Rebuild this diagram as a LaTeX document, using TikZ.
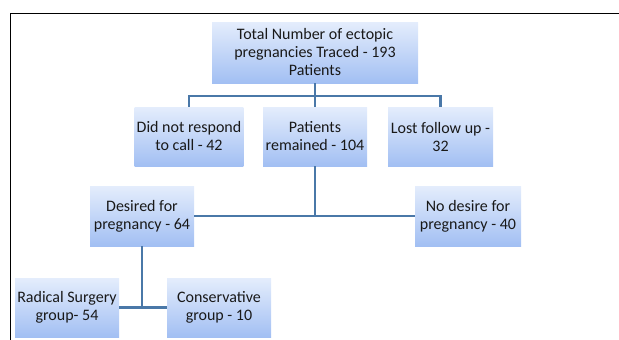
\documentclass[tikz,border=0pt]{standalone}
\usepackage{fontspec}
\setmainfont{Carlito}
\definecolor{boxtop}{HTML}{E4EDFC}
\definecolor{boxbot}{HTML}{A2BFF3}
\definecolor{linkblue}{HTML}{4A78A8}
\tikzset{
  flowbox/.style={rectangle, top color=boxtop, bottom color=boxbot, draw=none,
    align=center, inner sep=2pt, text=black!90,
    font=\fontsize{16}{18}\selectfont},
  smallbox/.style={flowbox, minimum width=104pt, minimum height=59pt},
  link/.style={draw=linkblue, line width=2.8pt}
}
\begin{document}
\begin{tikzpicture}[x=1pt, y=-1pt]
    \useasboundingbox (0,0) rectangle (619,340);
    % Frame
    \draw[black, line width=0.8pt] (619,13) -- (10,13) -- (10,340);

    % Top box
    \node[flowbox, minimum width=206pt, minimum height=61pt] (total) at (315,52.5)
        {Total Number of ectopic\\pregnancies Traced - 193\\Patients};

    % Second row
    \node[smallbox] (noresp) at (189,136.5) {Did not respond\\to call - 42};
    \node[smallbox] (remain) at (315,136.5) {Patients\\remained - 104};
    \node[smallbox, minimum width=105pt] (lost) at (440.5,136.5) {Lost follow up -\\32};

    % Third row
    \node[smallbox, minimum height=60pt] (desire) at (142,216) {Desired for\\pregnancy - 64};
    \node[smallbox, minimum width=106pt, minimum height=60pt] (nodesire) at (468,216) {No desire for\\pregnancy - 40};

    % Fourth row
    \node[smallbox] (radical) at (67,307.5) {Radical Surgery\\group- 54};
    \node[smallbox] (conserv) at (219,307.5) {Conservative\\group - 10};

    % Connectors
    \coordinate (bus) at (315,96);
    \draw[link] (total.south) -- (remain.north);
    \draw[link] (noresp.north) |- (bus) -| (lost.north);
    \draw[link] (desire.east) -- (nodesire.west);
    \draw[link] (remain.south) -- (remain.south |- desire.east);
    \draw[link] (radical.east) -- (conserv.west);
    \draw[link] (desire.south) -- (desire.south |- radical.east);
\end{tikzpicture}
\end{document}
